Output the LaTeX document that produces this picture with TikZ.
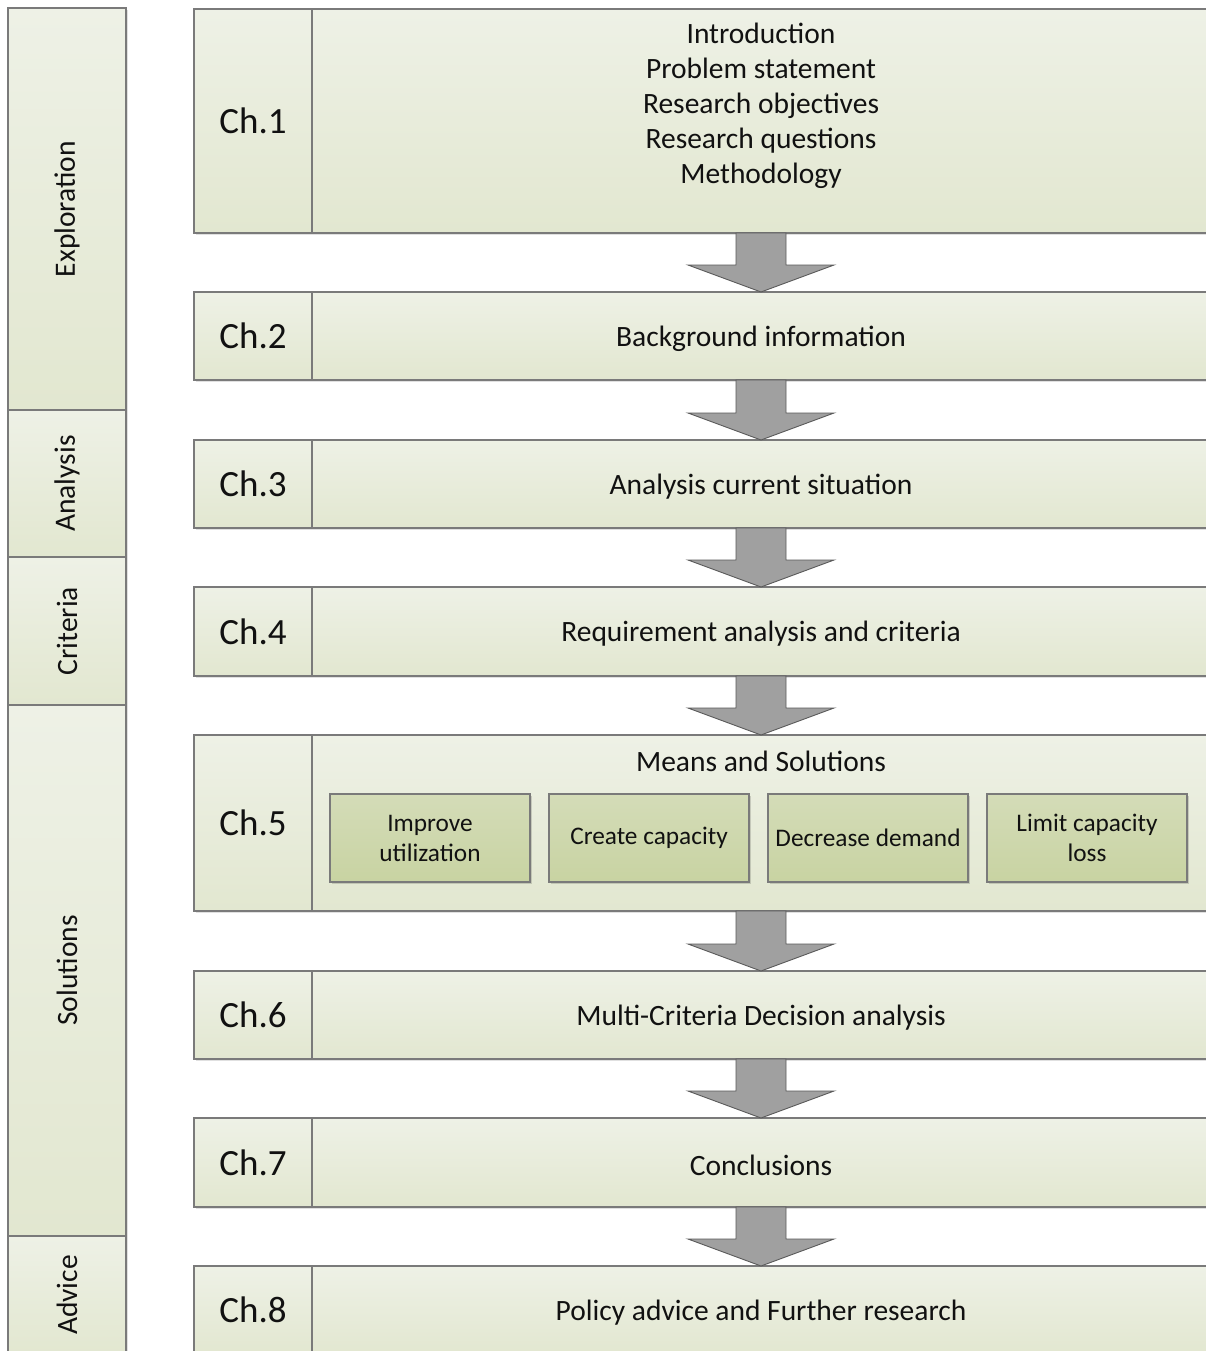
\documentclass[tikz,border=0pt]{standalone}
\usepackage{fontspec}
\setmainfont{Carlito}
\usetikzlibrary{calc,shadows}
\definecolor{bdr}{HTML}{7A7A7A}
\definecolor{ftop}{HTML}{EEF1E6}
\definecolor{fbot}{HTML}{E2E7D0}
\definecolor{itop}{HTML}{D4DCB8}
\definecolor{ibot}{HTML}{C8D3A2}
\definecolor{arrfill}{HTML}{A0A0A0}
\definecolor{arrdraw}{HTML}{5A5A5A}
\definecolor{txt}{HTML}{111111}
\tikzset{
  panel/.style={draw=bdr, line width=1.1pt, top color=ftop, bottom color=fbot,
    inner sep=0pt, outer sep=0pt,
    drop shadow={shadow xshift=1.5pt, shadow yshift=-2pt, opacity=0.12, fill=black}},
  inbox/.style={draw=bdr, line width=1.1pt, top color=itop, bottom color=ibot,
    minimum width=200pt, minimum height=88pt, inner sep=0pt, outer sep=0pt,
    align=center, font=\fontsize{25.3}{30}\selectfont, text=txt,
    drop shadow={shadow xshift=1.5pt, shadow yshift=-1.5pt, opacity=0.15, fill=black}},
  chlabel/.style={font=\fontsize{37}{40}\selectfont, text=txt},
  maintext/.style={font=\fontsize{29.5}{35}\selectfont, text=txt, align=center},
  oneline/.style={maintext, yshift=-2.5pt},
  sidetext/.style={font=\fontsize{29.5}{32}\selectfont, text=txt, rotate=90},
  downarrow/.style={fill=arrfill, draw=arrdraw, line width=0.9pt, line join=miter}
}
\begin{document}
\begin{tikzpicture}[x=1pt,y=-1pt]
\useasboundingbox (0,0) rectangle (1206,1351);
\clip (0,0) rectangle (1206,1351);
\fill[white] (0,0) rectangle (1206,1351);

% ---------- left phase bar ----------
\node[panel, minimum width=118pt, minimum height=402pt] (s1) at (67,209) {};
\node[panel, minimum width=118pt, minimum height=147pt] (s2) at (67,483.5) {};
\node[panel, minimum width=118pt, minimum height=148pt] (s3) at (67,631) {};
\node[panel, minimum width=118pt, minimum height=531pt] (s4) at (67,970.5) {};
\node[panel, minimum width=118pt, minimum height=118pt] (s5) at (67,1295) {};
\node[sidetext] (l1) at (s1) {Exploration};
\node[sidetext] (l2) at (s2) {Analysis};
\node[sidetext] (l3) at (s3) {Criteria};
\node[sidetext] (l4) at (s4) {Solutions};
\node[sidetext] (l5) at (s5) {Advice};

% ---------- chapter rows ----------
% Ch.1
\node[panel, minimum width=118pt, minimum height=224pt] (c1) at (253,121) {};
\node[panel, minimum width=898pt, minimum height=224pt] (t1) at (761,121) {};
\node[chlabel] (c1l) at (c1) {Ch.1};
\node[maintext] (t1l) at (761,105.5) {Introduction\\Problem statement\\Research objectives\\Research questions\\Methodology};
% Ch.2
\node[panel, minimum width=118pt, minimum height=88pt] (c2) at (253,336) {};
\node[panel, minimum width=898pt, minimum height=88pt] (t2) at (761,336) {};
\node[chlabel] (c2l) at (c2) {Ch.2};
\node[oneline] (t2l) at (t2) {Background information};
% Ch.3
\node[panel, minimum width=118pt, minimum height=88pt] (c3) at (253,484) {};
\node[panel, minimum width=898pt, minimum height=88pt] (t3) at (761,484) {};
\node[chlabel] (c3l) at (c3) {Ch.3};
\node[oneline] (t3l) at (t3) {Analysis current situation};
% Ch.4
\node[panel, minimum width=118pt, minimum height=89pt] (c4) at (253,631.5) {};
\node[panel, minimum width=898pt, minimum height=89pt] (t4) at (761,631.5) {};
\node[chlabel] (c4l) at (c4) {Ch.4};
\node[oneline] (t4l) at (t4) {Requirement analysis and criteria};
% Ch.5
\node[panel, minimum width=118pt, minimum height=176pt] (c5) at (253,823) {};
\node[panel, minimum width=898pt, minimum height=176pt] (t5) at (761,823) {};
\node[chlabel] (c5l) at (c5) {Ch.5};
\node[maintext] (t5l) at (761,761) {Means and Solutions};
\node[inbox] (m1) at (430,838) {Improve\\utilization};
\node[inbox] (m2) at (649,838) {Create capacity};
\node[inbox] (m3) at (868,838) {Decrease demand};
\node[inbox] (m4) at (1087,838) {Limit capacity\\loss};
% Ch.6
\node[panel, minimum width=118pt, minimum height=88pt] (c6) at (253,1015) {};
\node[panel, minimum width=898pt, minimum height=88pt] (t6) at (761,1015) {};
\node[chlabel] (c6l) at (c6) {Ch.6};
\node[oneline] (t6l) at (t6) {Multi-Criteria Decision analysis};
% Ch.7
\node[panel, minimum width=118pt, minimum height=89pt] (c7) at (253,1162.5) {};
\node[panel, minimum width=898pt, minimum height=89pt] (t7) at (761,1162.5) {};
\node[chlabel] (c7l) at (c7) {Ch.7};
\node[oneline] (t7l) at (t7) {Conclusions};
% Ch.8
\node[panel, minimum width=118pt, minimum height=88pt] (c8) at (253,1310) {};
\node[panel, minimum width=898pt, minimum height=88pt] (t8) at (761,1310) {};
\node[chlabel] (c8l) at (c8) {Ch.8};
\node[oneline] (t8l) at (t8) {Policy advice and Further research};

% ---------- block arrows ----------
\foreach \a/\b in {t1/t2,t2/t3,t3/t4,t4/t5,t5/t6,t6/t7,t7/t8}{
  \draw[downarrow]
    ($(\a.south)+(-25,0)$) -- ($(\a.south)+(25,0)$) --
    ($(\b.north)+(25,-27)$) -- ($(\b.north)+(73,-27)$) --
    (\b.north) --
    ($(\b.north)+(-73,-27)$) -- ($(\b.north)+(-25,-27)$) -- cycle;
}
\end{tikzpicture}
\end{document}
